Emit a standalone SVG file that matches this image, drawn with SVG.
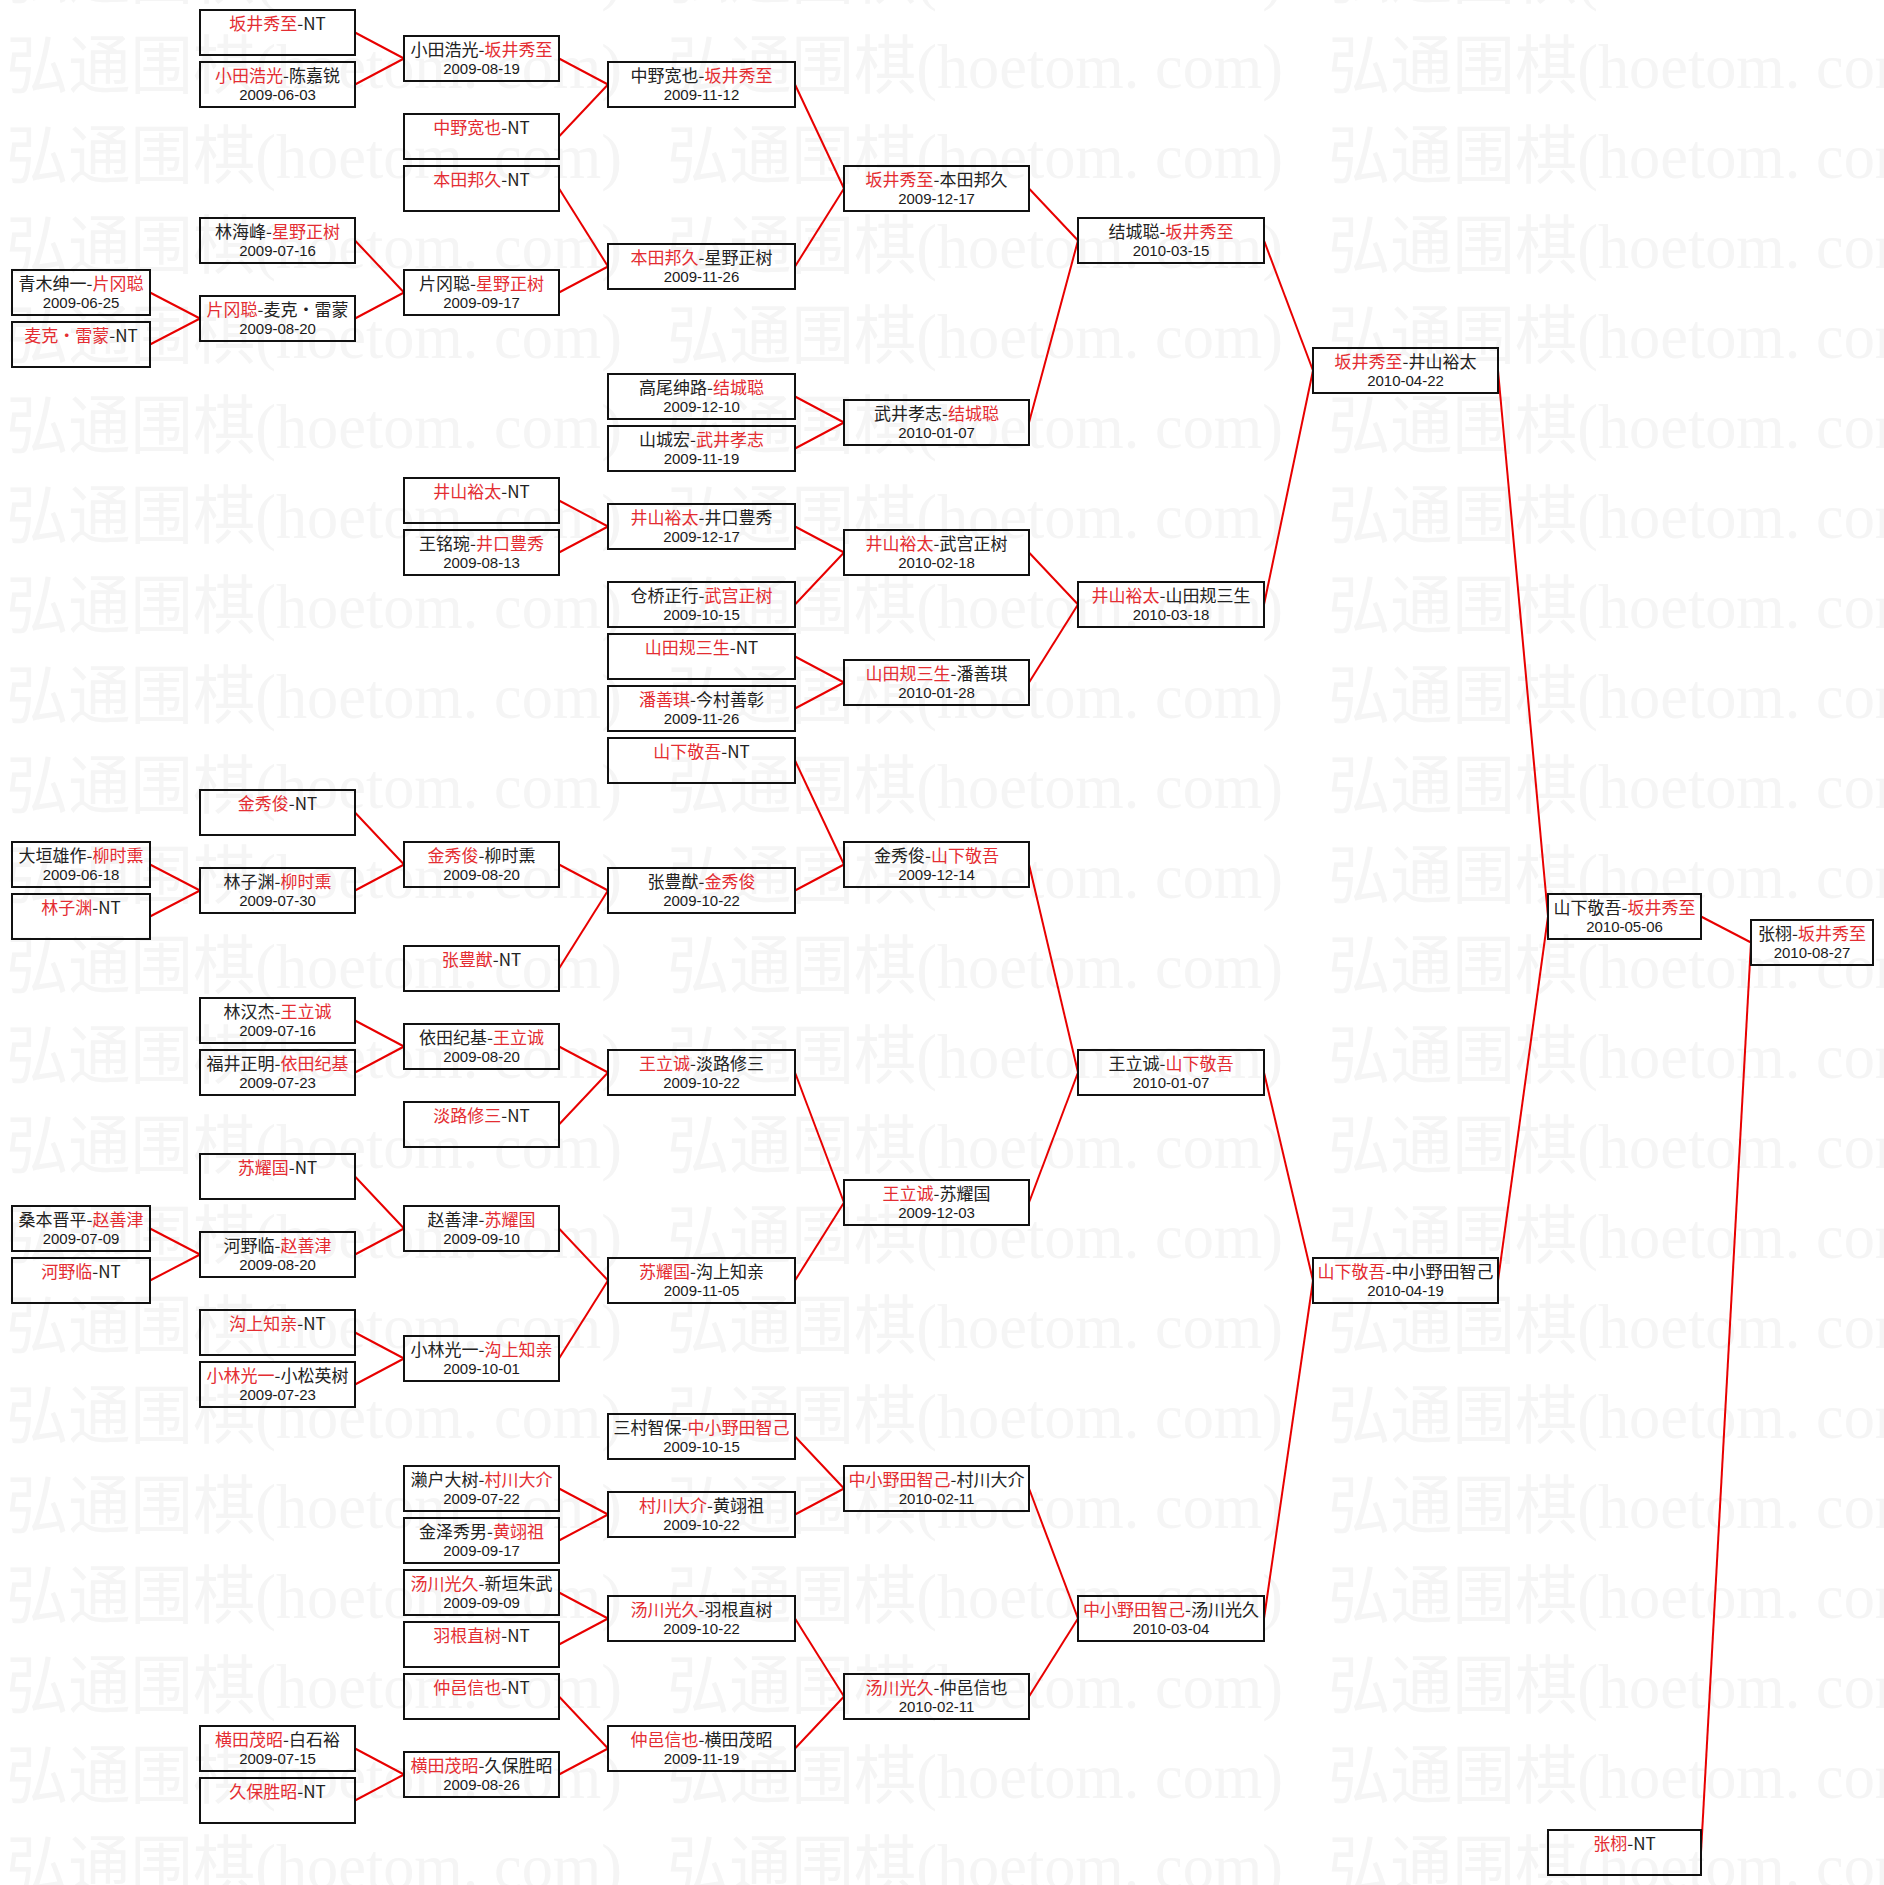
<svg xmlns="http://www.w3.org/2000/svg" width="1884" height="1885" viewBox="0 0 1884 1885">
<style>
.bx{fill:none;stroke:#111;stroke-width:2}
.n{font-family:"Noto Sans CJK SC","Noto Sans",sans-serif;font-size:17px;text-anchor:middle;fill:#222}
.r{fill:#e42d32}
.d{font-family:"Liberation Sans",sans-serif;font-size:15px;text-anchor:middle;fill:#1a1a1a}
.wm{font-family:"Liberation Serif","Noto Sans CJK SC",serif;font-size:64px;fill:#f5f5f5}
#connectors line{stroke:#e80000;stroke-width:2}
</style>
<defs>
<pattern id="wmp" patternUnits="userSpaceOnUse" x="6" y="30" width="661" height="90">
<text class="wm" x="0" y="58" textLength="616" lengthAdjust="spacingAndGlyphs">弘通围棋(hoetom. com)</text>
</pattern>
</defs>
<rect width="1884" height="1885" fill="#ffffff"/>
<rect width="1884" height="1885" fill="url(#wmp)"/>

<g id="connectors">
<line x1="150" y1="292.5" x2="200" y2="318.5"/>
<line x1="150" y1="344.5" x2="200" y2="318.5"/>
<line x1="150" y1="864.5" x2="200" y2="890.5"/>
<line x1="150" y1="916.5" x2="200" y2="890.5"/>
<line x1="150" y1="1228.5" x2="200" y2="1254.5"/>
<line x1="150" y1="1280.5" x2="200" y2="1254.5"/>

<line x1="355" y1="32.5" x2="404" y2="58.5"/>
<line x1="355" y1="84.5" x2="404" y2="58.5"/>
<line x1="355" y1="240.5" x2="404" y2="292.5"/>
<line x1="355" y1="318.5" x2="404" y2="292.5"/>
<line x1="355" y1="812.5" x2="404" y2="864.5"/>
<line x1="355" y1="890.5" x2="404" y2="864.5"/>
<line x1="355" y1="1020.5" x2="404" y2="1046.5"/>
<line x1="355" y1="1072.5" x2="404" y2="1046.5"/>
<line x1="355" y1="1176.5" x2="404" y2="1228.5"/>
<line x1="355" y1="1254.5" x2="404" y2="1228.5"/>
<line x1="355" y1="1332.5" x2="404" y2="1358.5"/>
<line x1="355" y1="1384.5" x2="404" y2="1358.5"/>
<line x1="355" y1="1748.5" x2="404" y2="1774.5"/>
<line x1="355" y1="1800.5" x2="404" y2="1774.5"/>

<line x1="559" y1="58.5" x2="608" y2="84.5"/>
<line x1="559" y1="136.5" x2="608" y2="84.5"/>
<line x1="559" y1="188.5" x2="608" y2="266.5"/>
<line x1="559" y1="292.5" x2="608" y2="266.5"/>
<line x1="559" y1="500.5" x2="608" y2="526.5"/>
<line x1="559" y1="552.5" x2="608" y2="526.5"/>
<line x1="559" y1="864.5" x2="608" y2="890.5"/>
<line x1="559" y1="968.5" x2="608" y2="890.5"/>
<line x1="559" y1="1046.5" x2="608" y2="1072.5"/>
<line x1="559" y1="1124.5" x2="608" y2="1072.5"/>
<line x1="559" y1="1228.5" x2="608" y2="1280.5"/>
<line x1="559" y1="1358.5" x2="608" y2="1280.5"/>
<line x1="559" y1="1488.5" x2="608" y2="1514.5"/>
<line x1="559" y1="1540.5" x2="608" y2="1514.5"/>
<line x1="559" y1="1592.5" x2="608" y2="1618.5"/>
<line x1="559" y1="1644.5" x2="608" y2="1618.5"/>
<line x1="559" y1="1696.5" x2="608" y2="1748.5"/>
<line x1="559" y1="1774.5" x2="608" y2="1748.5"/>

<line x1="795" y1="84.5" x2="844" y2="188.5"/>
<line x1="795" y1="266.5" x2="844" y2="188.5"/>
<line x1="795" y1="396.5" x2="844" y2="422.5"/>
<line x1="795" y1="448.5" x2="844" y2="422.5"/>
<line x1="795" y1="526.5" x2="844" y2="552.5"/>
<line x1="795" y1="604.5" x2="844" y2="552.5"/>
<line x1="795" y1="656.5" x2="844" y2="682.5"/>
<line x1="795" y1="708.5" x2="844" y2="682.5"/>
<line x1="795" y1="760.5" x2="844" y2="864.5"/>
<line x1="795" y1="890.5" x2="844" y2="864.5"/>
<line x1="795" y1="1072.5" x2="844" y2="1202.5"/>
<line x1="795" y1="1280.5" x2="844" y2="1202.5"/>
<line x1="795" y1="1436.5" x2="844" y2="1488.5"/>
<line x1="795" y1="1514.5" x2="844" y2="1488.5"/>
<line x1="795" y1="1618.5" x2="844" y2="1696.5"/>
<line x1="795" y1="1748.5" x2="844" y2="1696.5"/>

<line x1="1029" y1="188.5" x2="1078" y2="240.5"/>
<line x1="1029" y1="422.5" x2="1078" y2="240.5"/>
<line x1="1029" y1="552.5" x2="1078" y2="604.5"/>
<line x1="1029" y1="682.5" x2="1078" y2="604.5"/>
<line x1="1029" y1="864.5" x2="1078" y2="1072.5"/>
<line x1="1029" y1="1202.5" x2="1078" y2="1072.5"/>
<line x1="1029" y1="1488.5" x2="1078" y2="1618.5"/>
<line x1="1029" y1="1696.5" x2="1078" y2="1618.5"/>

<line x1="1264" y1="240.5" x2="1313" y2="370.5"/>
<line x1="1264" y1="604.5" x2="1313" y2="370.5"/>
<line x1="1264" y1="1072.5" x2="1313" y2="1280.5"/>
<line x1="1264" y1="1618.5" x2="1313" y2="1280.5"/>

<line x1="1498" y1="370.5" x2="1548" y2="916.5"/>
<line x1="1498" y1="1280.5" x2="1548" y2="916.5"/>

<line x1="1701" y1="916.5" x2="1751" y2="942.5"/>
<line x1="1701" y1="1852.5" x2="1751" y2="942.5"/>
</g>

<!-- column 0 -->
<g id="n0_5"><rect class="bx" x="12" y="270" width="138" height="45"/><text class="n" x="81" y="290">青木绅一-<tspan class="r">片冈聪</tspan></text><text class="d" x="81" y="308">2009-06-25</text></g>
<g id="n0_6"><rect class="bx" x="12" y="322" width="138" height="45"/><text class="n" x="81" y="342"><tspan class="r">麦克・雷蒙</tspan>-NT</text></g>
<g id="n0_16"><rect class="bx" x="12" y="842" width="138" height="45"/><text class="n" x="81" y="862">大垣雄作-<tspan class="r">柳时熏</tspan></text><text class="d" x="81" y="880">2009-06-18</text></g>
<g id="n0_17"><rect class="bx" x="12" y="894" width="138" height="45"/><text class="n" x="81" y="914"><tspan class="r">林子渊</tspan>-NT</text></g>
<g id="n0_23"><rect class="bx" x="12" y="1206" width="138" height="45"/><text class="n" x="81" y="1226">桑本晋平-<tspan class="r">赵善津</tspan></text><text class="d" x="81" y="1244">2009-07-09</text></g>
<g id="n0_24"><rect class="bx" x="12" y="1258" width="138" height="45"/><text class="n" x="81" y="1278"><tspan class="r">河野临</tspan>-NT</text></g>

<!-- column 1 -->
<g id="n1_0"><rect class="bx" x="200" y="10" width="155" height="45"/><text class="n" x="277.5" y="30"><tspan class="r">坂井秀至</tspan>-NT</text></g>
<g id="n1_1"><rect class="bx" x="200" y="62" width="155" height="45"/><text class="n" x="277.5" y="82"><tspan class="r">小田浩光</tspan>-陈嘉锐</text><text class="d" x="277.5" y="100">2009-06-03</text></g>
<g id="n1_4"><rect class="bx" x="200" y="218" width="155" height="45"/><text class="n" x="277.5" y="238">林海峰-<tspan class="r">星野正树</tspan></text><text class="d" x="277.5" y="256">2009-07-16</text></g>
<g id="n1_5h"><rect class="bx" x="200" y="296" width="155" height="45"/><text class="n" x="277.5" y="316"><tspan class="r">片冈聪</tspan>-麦克・雷蒙</text><text class="d" x="277.5" y="334">2009-08-20</text></g>
<g id="n1_15"><rect class="bx" x="200" y="790" width="155" height="45"/><text class="n" x="277.5" y="810"><tspan class="r">金秀俊</tspan>-NT</text></g>
<g id="n1_16h"><rect class="bx" x="200" y="868" width="155" height="45"/><text class="n" x="277.5" y="888">林子渊-<tspan class="r">柳时熏</tspan></text><text class="d" x="277.5" y="906">2009-07-30</text></g>
<g id="n1_19"><rect class="bx" x="200" y="998" width="155" height="45"/><text class="n" x="277.5" y="1018">林汉杰-<tspan class="r">王立诚</tspan></text><text class="d" x="277.5" y="1036">2009-07-16</text></g>
<g id="n1_20"><rect class="bx" x="200" y="1050" width="155" height="45"/><text class="n" x="277.5" y="1070">福井正明-<tspan class="r">依田纪基</tspan></text><text class="d" x="277.5" y="1088">2009-07-23</text></g>
<g id="n1_22"><rect class="bx" x="200" y="1154" width="155" height="45"/><text class="n" x="277.5" y="1174"><tspan class="r">苏耀国</tspan>-NT</text></g>
<g id="n1_23h"><rect class="bx" x="200" y="1232" width="155" height="45"/><text class="n" x="277.5" y="1252">河野临-<tspan class="r">赵善津</tspan></text><text class="d" x="277.5" y="1270">2009-08-20</text></g>
<g id="n1_25"><rect class="bx" x="200" y="1310" width="155" height="45"/><text class="n" x="277.5" y="1330"><tspan class="r">沟上知亲</tspan>-NT</text></g>
<g id="n1_26"><rect class="bx" x="200" y="1362" width="155" height="45"/><text class="n" x="277.5" y="1382"><tspan class="r">小林光一</tspan>-小松英树</text><text class="d" x="277.5" y="1400">2009-07-23</text></g>
<g id="n1_33"><rect class="bx" x="200" y="1726" width="155" height="45"/><text class="n" x="277.5" y="1746"><tspan class="r">横田茂昭</tspan>-白石裕</text><text class="d" x="277.5" y="1764">2009-07-15</text></g>
<g id="n1_34"><rect class="bx" x="200" y="1778" width="155" height="45"/><text class="n" x="277.5" y="1798"><tspan class="r">久保胜昭</tspan>-NT</text></g>

<!-- column 2 -->
<g id="n2_0h"><rect class="bx" x="404" y="36" width="155" height="45"/><text class="n" x="481.5" y="56">小田浩光-<tspan class="r">坂井秀至</tspan></text><text class="d" x="481.5" y="74">2009-08-19</text></g>
<g id="n2_2"><rect class="bx" x="404" y="114" width="155" height="45"/><text class="n" x="481.5" y="134"><tspan class="r">中野宽也</tspan>-NT</text></g>
<g id="n2_3"><rect class="bx" x="404" y="166" width="155" height="45"/><text class="n" x="481.5" y="186"><tspan class="r">本田邦久</tspan>-NT</text></g>
<g id="n2_5"><rect class="bx" x="404" y="270" width="155" height="45"/><text class="n" x="481.5" y="290">片冈聪-<tspan class="r">星野正树</tspan></text><text class="d" x="481.5" y="308">2009-09-17</text></g>
<g id="n2_9"><rect class="bx" x="404" y="478" width="155" height="45"/><text class="n" x="481.5" y="498"><tspan class="r">井山裕太</tspan>-NT</text></g>
<g id="n2_10"><rect class="bx" x="404" y="530" width="155" height="45"/><text class="n" x="481.5" y="550">王铭琬-<tspan class="r">井口豊秀</tspan></text><text class="d" x="481.5" y="568">2009-08-13</text></g>
<g id="n2_16"><rect class="bx" x="404" y="842" width="155" height="45"/><text class="n" x="481.5" y="862"><tspan class="r">金秀俊</tspan>-柳时熏</text><text class="d" x="481.5" y="880">2009-08-20</text></g>
<g id="n2_18"><rect class="bx" x="404" y="946" width="155" height="45"/><text class="n" x="481.5" y="966"><tspan class="r">张豊猷</tspan>-NT</text></g>
<g id="n2_19h"><rect class="bx" x="404" y="1024" width="155" height="45"/><text class="n" x="481.5" y="1044">依田纪基-<tspan class="r">王立诚</tspan></text><text class="d" x="481.5" y="1062">2009-08-20</text></g>
<g id="n2_21"><rect class="bx" x="404" y="1102" width="155" height="45"/><text class="n" x="481.5" y="1122"><tspan class="r">淡路修三</tspan>-NT</text></g>
<g id="n2_23"><rect class="bx" x="404" y="1206" width="155" height="45"/><text class="n" x="481.5" y="1226">赵善津-<tspan class="r">苏耀国</tspan></text><text class="d" x="481.5" y="1244">2009-09-10</text></g>
<g id="n2_25h"><rect class="bx" x="404" y="1336" width="155" height="45"/><text class="n" x="481.5" y="1356">小林光一-<tspan class="r">沟上知亲</tspan></text><text class="d" x="481.5" y="1374">2009-10-01</text></g>
<g id="n2_28"><rect class="bx" x="404" y="1466" width="155" height="45"/><text class="n" x="481.5" y="1486">濑户大树-<tspan class="r">村川大介</tspan></text><text class="d" x="481.5" y="1504">2009-07-22</text></g>
<g id="n2_29"><rect class="bx" x="404" y="1518" width="155" height="45"/><text class="n" x="481.5" y="1538">金泽秀男-<tspan class="r">黄翊祖</tspan></text><text class="d" x="481.5" y="1556">2009-09-17</text></g>
<g id="n2_30"><rect class="bx" x="404" y="1570" width="155" height="45"/><text class="n" x="481.5" y="1590"><tspan class="r">汤川光久</tspan>-新垣朱武</text><text class="d" x="481.5" y="1608">2009-09-09</text></g>
<g id="n2_31"><rect class="bx" x="404" y="1622" width="155" height="45"/><text class="n" x="481.5" y="1642"><tspan class="r">羽根直树</tspan>-NT</text></g>
<g id="n2_32"><rect class="bx" x="404" y="1674" width="155" height="45"/><text class="n" x="481.5" y="1694"><tspan class="r">仲邑信也</tspan>-NT</text></g>
<g id="n2_33h"><rect class="bx" x="404" y="1752" width="155" height="45"/><text class="n" x="481.5" y="1772"><tspan class="r">横田茂昭</tspan>-久保胜昭</text><text class="d" x="481.5" y="1790">2009-08-26</text></g>

<!-- column 3 -->
<g id="n3_1"><rect class="bx" x="608" y="62" width="187" height="45"/><text class="n" x="701.5" y="82">中野宽也-<tspan class="r">坂井秀至</tspan></text><text class="d" x="701.5" y="100">2009-11-12</text></g>
<g id="n3_4h"><rect class="bx" x="608" y="244" width="187" height="45"/><text class="n" x="701.5" y="264"><tspan class="r">本田邦久</tspan>-星野正树</text><text class="d" x="701.5" y="282">2009-11-26</text></g>
<g id="n3_7"><rect class="bx" x="608" y="374" width="187" height="45"/><text class="n" x="701.5" y="394">高尾绅路-<tspan class="r">结城聪</tspan></text><text class="d" x="701.5" y="412">2009-12-10</text></g>
<g id="n3_8"><rect class="bx" x="608" y="426" width="187" height="45"/><text class="n" x="701.5" y="446">山城宏-<tspan class="r">武井孝志</tspan></text><text class="d" x="701.5" y="464">2009-11-19</text></g>
<g id="n3_9h"><rect class="bx" x="608" y="504" width="187" height="45"/><text class="n" x="701.5" y="524"><tspan class="r">井山裕太</tspan>-井口豊秀</text><text class="d" x="701.5" y="542">2009-12-17</text></g>
<g id="n3_11"><rect class="bx" x="608" y="582" width="187" height="45"/><text class="n" x="701.5" y="602">仓桥正行-<tspan class="r">武宫正树</tspan></text><text class="d" x="701.5" y="620">2009-10-15</text></g>
<g id="n3_12"><rect class="bx" x="608" y="634" width="187" height="45"/><text class="n" x="701.5" y="654"><tspan class="r">山田规三生</tspan>-NT</text></g>
<g id="n3_13"><rect class="bx" x="608" y="686" width="187" height="45"/><text class="n" x="701.5" y="706"><tspan class="r">潘善琪</tspan>-今村善彰</text><text class="d" x="701.5" y="724">2009-11-26</text></g>
<g id="n3_14"><rect class="bx" x="608" y="738" width="187" height="45"/><text class="n" x="701.5" y="758"><tspan class="r">山下敬吾</tspan>-NT</text></g>
<g id="n3_16h"><rect class="bx" x="608" y="868" width="187" height="45"/><text class="n" x="701.5" y="888">张豊猷-<tspan class="r">金秀俊</tspan></text><text class="d" x="701.5" y="906">2009-10-22</text></g>
<g id="n3_20"><rect class="bx" x="608" y="1050" width="187" height="45"/><text class="n" x="701.5" y="1070"><tspan class="r">王立诚</tspan>-淡路修三</text><text class="d" x="701.5" y="1088">2009-10-22</text></g>
<g id="n3_24"><rect class="bx" x="608" y="1258" width="187" height="45"/><text class="n" x="701.5" y="1278"><tspan class="r">苏耀国</tspan>-沟上知亲</text><text class="d" x="701.5" y="1296">2009-11-05</text></g>
<g id="n3_27"><rect class="bx" x="608" y="1414" width="187" height="45"/><text class="n" x="701.5" y="1434">三村智保-<tspan class="r">中小野田智己</tspan></text><text class="d" x="701.5" y="1452">2009-10-15</text></g>
<g id="n3_28h"><rect class="bx" x="608" y="1492" width="187" height="45"/><text class="n" x="701.5" y="1512"><tspan class="r">村川大介</tspan>-黄翊祖</text><text class="d" x="701.5" y="1530">2009-10-22</text></g>
<g id="n3_30h"><rect class="bx" x="608" y="1596" width="187" height="45"/><text class="n" x="701.5" y="1616"><tspan class="r">汤川光久</tspan>-羽根直树</text><text class="d" x="701.5" y="1634">2009-10-22</text></g>
<g id="n3_33"><rect class="bx" x="608" y="1726" width="187" height="45"/><text class="n" x="701.5" y="1746"><tspan class="r">仲邑信也</tspan>-横田茂昭</text><text class="d" x="701.5" y="1764">2009-11-19</text></g>

<!-- column 4 -->
<g id="n4_3"><rect class="bx" x="844" y="166" width="185" height="45"/><text class="n" x="936.5" y="186"><tspan class="r">坂井秀至</tspan>-本田邦久</text><text class="d" x="936.5" y="204">2009-12-17</text></g>
<g id="n4_7h"><rect class="bx" x="844" y="400" width="185" height="45"/><text class="n" x="936.5" y="420">武井孝志-<tspan class="r">结城聪</tspan></text><text class="d" x="936.5" y="438">2010-01-07</text></g>
<g id="n4_10"><rect class="bx" x="844" y="530" width="185" height="45"/><text class="n" x="936.5" y="550"><tspan class="r">井山裕太</tspan>-武宫正树</text><text class="d" x="936.5" y="568">2010-02-18</text></g>
<g id="n4_12h"><rect class="bx" x="844" y="660" width="185" height="45"/><text class="n" x="936.5" y="680"><tspan class="r">山田规三生</tspan>-潘善琪</text><text class="d" x="936.5" y="698">2010-01-28</text></g>
<g id="n4_16"><rect class="bx" x="844" y="842" width="185" height="45"/><text class="n" x="936.5" y="862">金秀俊-<tspan class="r">山下敬吾</tspan></text><text class="d" x="936.5" y="880">2009-12-14</text></g>
<g id="n4_22h"><rect class="bx" x="844" y="1180" width="185" height="45"/><text class="n" x="936.5" y="1200"><tspan class="r">王立诚</tspan>-苏耀国</text><text class="d" x="936.5" y="1218">2009-12-03</text></g>
<g id="n4_28"><rect class="bx" x="844" y="1466" width="185" height="45"/><text class="n" x="936.5" y="1486"><tspan class="r">中小野田智己</tspan>-村川大介</text><text class="d" x="936.5" y="1504">2010-02-11</text></g>
<g id="n4_32"><rect class="bx" x="844" y="1674" width="185" height="45"/><text class="n" x="936.5" y="1694"><tspan class="r">汤川光久</tspan>-仲邑信也</text><text class="d" x="936.5" y="1712">2010-02-11</text></g>

<!-- column 5 -->
<g id="n5_4"><rect class="bx" x="1078" y="218" width="186" height="45"/><text class="n" x="1171" y="238">结城聪-<tspan class="r">坂井秀至</tspan></text><text class="d" x="1171" y="256">2010-03-15</text></g>
<g id="n5_11"><rect class="bx" x="1078" y="582" width="186" height="45"/><text class="n" x="1171" y="602"><tspan class="r">井山裕太</tspan>-山田规三生</text><text class="d" x="1171" y="620">2010-03-18</text></g>
<g id="n5_20"><rect class="bx" x="1078" y="1050" width="186" height="45"/><text class="n" x="1171" y="1070">王立诚-<tspan class="r">山下敬吾</tspan></text><text class="d" x="1171" y="1088">2010-01-07</text></g>
<g id="n5_30h"><rect class="bx" x="1078" y="1596" width="186" height="45"/><text class="n" x="1171" y="1616"><tspan class="r">中小野田智己</tspan>-汤川光久</text><text class="d" x="1171" y="1634">2010-03-04</text></g>

<!-- column 6 -->
<g id="n6_6h"><rect class="bx" x="1313" y="348" width="185" height="45"/><text class="n" x="1405.5" y="368"><tspan class="r">坂井秀至</tspan>-井山裕太</text><text class="d" x="1405.5" y="386">2010-04-22</text></g>
<g id="n6_24"><rect class="bx" x="1313" y="1258" width="185" height="45"/><text class="n" x="1405.5" y="1278"><tspan class="r">山下敬吾</tspan>-中小野田智己</text><text class="d" x="1405.5" y="1296">2010-04-19</text></g>

<!-- column 7 -->
<g id="n7_17"><rect class="bx" x="1548" y="894" width="153" height="45"/><text class="n" x="1624.5" y="914">山下敬吾-<tspan class="r">坂井秀至</tspan></text><text class="d" x="1624.5" y="932">2010-05-06</text></g>
<g id="n7_35"><rect class="bx" x="1548" y="1830" width="153" height="45"/><text class="n" x="1624.5" y="1850"><tspan class="r">张栩</tspan>-NT</text></g>

<!-- column 8 -->
<g id="n8_17h"><rect class="bx" x="1751" y="920" width="122" height="45"/><text class="n" x="1812" y="940">张栩-<tspan class="r">坂井秀至</tspan></text><text class="d" x="1812" y="958">2010-08-27</text></g>
</svg>
